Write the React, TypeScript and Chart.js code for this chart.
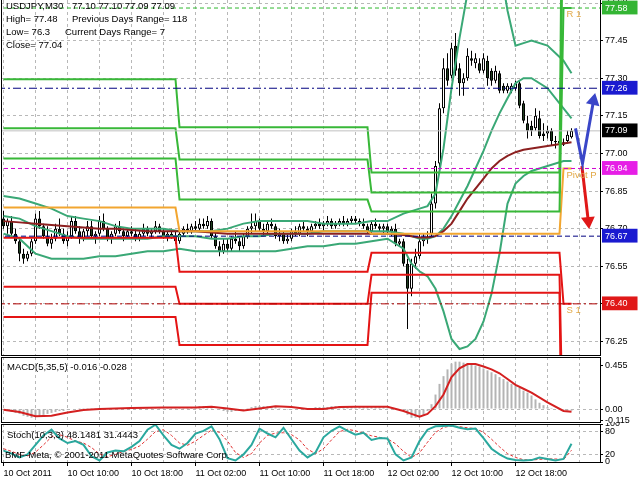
import React, { useEffect, useRef } from "react";
import { Chart, registerables } from "chart.js";

Chart.register(...registerables);

const FONT = "'Liberation Sans', Arial, Helvetica, sans-serif";
const GRID = "#b8b8b8";
const CLEAR = "rgba(0,0,0,0)";

// ---------------- time axis ----------------
const timeTickIdx = [0, 16, 32, 48, 64, 80, 96, 112, 128];
const timeTickLabels = ["10 Oct 2011", "10 Oct 10:00", "10 Oct 18:00", "11 Oct 02:00", "11 Oct 10:00", "11 Oct 18:00", "12 Oct 02:00", "12 Oct 10:00", "12 Oct 18:00"];
const gridIdx = [0, 8, 16, 24, 32, 40, 48, 56, 64, 72, 80, 88, 96, 104, 112, 120, 128, 136, 144];

// ---------------- candles (USDJPY M30) ----------------
const opens = [
  76.74, 76.71, 76.73, 76.68, 76.65, 76.60, 76.58, 76.60, 76.65, 76.74,
  76.71, 76.67, 76.64, 76.66, 76.70, 76.68, 76.65, 76.67, 76.73, 76.69,
  76.66, 76.69, 76.71, 76.67, 76.68, 76.73, 76.70, 76.66, 76.68, 76.71,
  76.69, 76.67, 76.69, 76.68, 76.66, 76.68, 76.70, 76.68, 76.69, 76.71,
  76.69, 76.67, 76.68, 76.67, 76.65, 76.68, 76.70, 76.69, 76.71, 76.70,
  76.72, 76.71, 76.73, 76.67, 76.63, 76.61, 76.64, 76.62, 76.66, 76.65,
  76.63, 76.67, 76.70, 76.71, 76.73, 76.70, 76.69, 76.72, 76.71, 76.67,
  76.68, 76.65, 76.66, 76.69, 76.68, 76.71, 76.70, 76.69, 76.71, 76.72,
  76.71, 76.72, 76.73, 76.71, 76.72, 76.73, 76.72, 76.73, 76.74, 76.73,
  76.72, 76.71, 76.69, 76.72, 76.71, 76.70, 76.71, 76.69, 76.70, 76.64,
  76.65, 76.56, 76.46, 76.56, 76.59, 76.65, 76.66, 76.68, 76.80, 76.96,
  77.18, 77.34, 77.31, 77.43, 77.34, 77.28, 77.30, 77.38, 77.36, 77.36,
  77.33, 77.37, 77.33, 77.29, 77.32, 77.27, 77.25, 77.25, 77.26, 77.28,
  77.20, 77.12, 77.11, 77.10, 77.14, 77.08, 77.08, 77.09, 77.05, 77.05,
  77.035, 77.05, 77.065,
];
const highs = [
  76.77, 76.74, 76.75, 76.70, 76.66, 76.62, 76.61, 76.66, 76.76, 76.77,
  76.72, 76.71, 76.68, 76.72, 76.74, 76.70, 76.69, 76.75, 76.75, 76.71,
  76.70, 76.73, 76.73, 76.69, 76.75, 76.76, 76.71, 76.69, 76.72, 76.73,
  76.70, 76.70, 76.71, 76.70, 76.69, 76.72, 76.71, 76.70, 76.73, 76.72,
  76.70, 76.69, 76.70, 76.69, 76.69, 76.71, 76.72, 76.72, 76.73, 76.74,
  76.74, 76.75, 76.74, 76.69, 76.65, 76.66, 76.66, 76.67, 76.69, 76.67,
  76.68, 76.71, 76.76, 76.76, 76.74, 76.72, 76.73, 76.74, 76.72, 76.70,
  76.69, 76.68, 76.70, 76.71, 76.72, 76.73, 76.71, 76.72, 76.73, 76.74,
  76.73, 76.75, 76.74, 76.73, 76.74, 76.75, 76.74, 76.75, 76.75, 76.74,
  76.74, 76.72, 76.73, 76.74, 76.72, 76.72, 76.72, 76.71, 76.72, 76.66,
  76.66, 76.58, 76.58, 76.62, 76.68, 76.68, 76.69, 76.84, 76.97, 77.20,
  77.38, 77.40, 77.44, 77.48, 77.36, 77.32, 77.42, 77.41, 77.40, 77.38,
  77.40, 77.39, 77.34, 77.35, 77.33, 77.28, 77.28, 77.28, 77.29, 77.29,
  77.21, 77.15, 77.13, 77.18, 77.17, 77.12, 77.11, 77.10, 77.07, 77.06,
  77.06, 77.09, 77.10,
];
const lows = [
  76.70, 76.68, 76.67, 76.64, 76.57, 76.56, 76.57, 76.59, 76.64, 76.70,
  76.66, 76.63, 76.62, 76.65, 76.67, 76.64, 76.63, 76.66, 76.68, 76.64,
  76.65, 76.67, 76.66, 76.64, 76.67, 76.69, 76.65, 76.64, 76.67, 76.68,
  76.65, 76.66, 76.67, 76.65, 76.65, 76.67, 76.67, 76.66, 76.68, 76.68,
  76.66, 76.65, 76.66, 76.64, 76.64, 76.67, 76.68, 76.68, 76.69, 76.69,
  76.70, 76.70, 76.66, 76.62, 76.59, 76.60, 76.61, 76.61, 76.64, 76.61,
  76.62, 76.66, 76.68, 76.69, 76.69, 76.67, 76.68, 76.70, 76.66, 76.65,
  76.64, 76.64, 76.65, 76.67, 76.67, 76.69, 76.67, 76.68, 76.70, 76.70,
  76.69, 76.71, 76.70, 76.70, 76.71, 76.71, 76.71, 76.72, 76.72, 76.71,
  76.70, 76.68, 76.68, 76.70, 76.69, 76.68, 76.68, 76.67, 76.63, 76.63,
  76.55, 76.30, 76.43, 76.54, 76.58, 76.63, 76.64, 76.67, 76.78, 76.94,
  77.16, 77.27, 77.30, 77.31, 77.23, 77.23, 77.29, 77.35, 77.34, 77.32,
  77.32, 77.27, 77.27, 77.28, 77.24, 77.24, 77.24, 77.24, 77.25, 77.18,
  77.12, 77.06, 77.07, 77.09, 77.06, 77.05, 77.06, 77.03, 77.02, 77.02,
  77.03, 77.04, 77.06,
];
const closes = [
  76.71, 76.73, 76.68, 76.65, 76.60, 76.58, 76.60, 76.65, 76.74, 76.71,
  76.67, 76.64, 76.66, 76.70, 76.68, 76.65, 76.67, 76.73, 76.69, 76.66,
  76.69, 76.71, 76.67, 76.68, 76.73, 76.70, 76.66, 76.68, 76.71, 76.69,
  76.67, 76.69, 76.68, 76.66, 76.68, 76.70, 76.68, 76.69, 76.71, 76.69,
  76.67, 76.68, 76.67, 76.65, 76.68, 76.70, 76.69, 76.71, 76.70, 76.72,
  76.71, 76.73, 76.67, 76.63, 76.61, 76.64, 76.62, 76.66, 76.65, 76.63,
  76.67, 76.70, 76.71, 76.73, 76.70, 76.69, 76.72, 76.71, 76.67, 76.68,
  76.65, 76.66, 76.69, 76.68, 76.71, 76.70, 76.69, 76.71, 76.72, 76.71,
  76.72, 76.73, 76.71, 76.72, 76.73, 76.72, 76.73, 76.74, 76.73, 76.72,
  76.71, 76.69, 76.72, 76.71, 76.70, 76.71, 76.69, 76.70, 76.64, 76.65,
  76.56, 76.46, 76.56, 76.59, 76.65, 76.66, 76.67, 76.80, 76.95, 77.18,
  77.34, 77.29, 77.42, 77.33, 77.28, 77.30, 77.39, 77.37, 77.38, 77.33,
  77.38, 77.30, 77.29, 77.33, 77.25, 77.25, 77.27, 77.27, 77.28, 77.19,
  77.13, 77.09, 77.09, 77.15, 77.07, 77.07, 77.09, 77.05, 77.045, 77.04,
  77.045, 77.075, 77.09,
];

// ---------------- daily pivot levels ----------------
const dayStart = [0, 44, 92, 140];
const dayEnd = [43, 91, 139, 142];
const levelR3 = [77.296, 77.104, 76.924, 78.76];
const levelR2 = [77.10, 76.976, 76.844, 78.12];
const levelR1 = [76.98, 76.816, 76.768, 77.58];
const pivotP = [76.784, 76.69, 76.68, 76.94];
const levelS1 = [76.664, 76.528, 76.604, 76.40];
const levelS2 = [76.468, 76.40, 76.516, 75.76];
const levelS3 = [76.348, 76.236, 76.444, 75.22];
const levelTagTexts = ["R 1", "Pivot P", "S 1"];

// ---------------- bands / moving average (sampled bars) ----------------
const lineIdx = [0, 4, 8, 12, 16, 20, 24, 28, 32, 36, 40, 44, 48, 52, 56, 60, 64, 68, 72, 76, 80, 84, 88, 92, 96,
  100, 102, 104, 106, 108, 110, 112, 114, 116, 118, 120, 122, 124, 126, 128, 130, 132, 136, 140, 142];
const bbUpper = [76.83, 76.82, 76.80, 76.78, 76.75, 76.74, 76.73, 76.71, 76.70, 76.70, 76.70, 76.69, 76.69, 76.69, 76.70, 76.72, 76.73, 76.73, 76.73, 76.73, 76.72, 76.72, 76.72, 76.73, 76.73,
  76.76, 76.77, 76.78, 76.79, 76.84, 77.02, 77.26, 77.46, 77.64, 77.76, 77.84, 77.86, 77.76, 77.57, 77.43, 77.44, 77.45, 77.43, 77.37, 77.32];
const bbMiddle = [76.75, 76.74, 76.71, 76.69, 76.67, 76.66, 76.66, 76.66, 76.66, 76.66, 76.67, 76.67, 76.67, 76.66, 76.66, 76.67, 76.67, 76.68, 76.68, 76.68, 76.69, 76.69, 76.69, 76.69, 76.69,
  76.68, 76.67, 76.66, 76.66, 76.67, 76.70, 76.75, 76.81, 76.87, 76.94, 77.01, 77.09, 77.16, 77.22, 77.28, 77.30, 77.30, 77.26, 77.18, 77.14];
const bbLower = [76.68, 76.66, 76.60, 76.58, 76.58, 76.58, 76.59, 76.59, 76.60, 76.61, 76.61, 76.62, 76.61, 76.61, 76.61, 76.61, 76.61, 76.61, 76.62, 76.63, 76.63, 76.64, 76.64, 76.65, 76.66,
  76.62, 76.56, 76.53, 76.51, 76.46, 76.37, 76.26, 76.22, 76.23, 76.26, 76.33, 76.44, 76.60, 76.80, 76.88, 76.91, 76.93, 76.95, 76.97, 76.97];
const maSlow = [76.73, 76.725, 76.72, 76.715, 76.71, 76.705, 76.70, 76.70, 76.695, 76.69, 76.69, 76.69, 76.69, 76.685, 76.68, 76.68, 76.68, 76.68, 76.68, 76.68, 76.68, 76.68, 76.68, 76.68, 76.68,
  76.675, 76.67, 76.665, 76.665, 76.67, 76.69, 76.72, 76.77, 76.82, 76.86, 76.90, 76.94, 76.97, 76.99, 77.005, 77.015, 77.02, 77.03, 77.04, 77.045];

// ---------------- horizontal price lines ----------------
const hLineValues = [77.58, 77.26, 77.09, 76.94, 76.67, 76.40];
const priceTicks = [77.60, 77.45, 77.30, 77.15, 77.00, 76.85, 76.70, 76.55, 76.40, 76.25];

// ---------------- projection arrows ----------------
const projBlueX = [143, 144.75, 147.5];
const projBlueY = [77.10, 76.96, 77.21];
const projRedX = [144.6, 146.2];
const projRedY = [76.95, 76.73];

// ---------------- header texts ----------------
const headerLeft = ["USDJPY,M30", "High= 77.48", "Low= 76.3", "Close= 77.04"];
const headerRight = ["77.10 77.10 77.09 77.09", "Previous Days Range= 118", "Current Days Range= 7", ""];

// ---------------- MACD(5,35,5) ----------------
const macdHist = [
  -0.01, -0.02, -0.03, -0.04, -0.05, -0.07, -0.08, -0.09, -0.08, -0.07, -0.06, -0.05, -0.04, -0.03, -0.02, -0.02, -0.01,
  0, 0, 0.01, 0.01, 0.01, 0.01, 0.01, 0.01, 0.01, 0.01, 0.01, 0.01, 0.01, 0.01,
  0.01, 0.01, 0.01, 0.01, 0.02, 0.02, 0.02, 0.01, 0.01, 0.01, 0.01, 0.01, 0.01, 0.01, 0.01,
  0.02, 0.02, 0.02, 0.03, 0.03, 0.03, 0.02, 0, -0.01, -0.02,
  -0.03, -0.03, -0.02, -0.01, 0, 0.01, 0.02, 0.03, 0.03, 0.03,
  0.03, 0.03, 0.02, 0.01, 0, -0.01, -0.01, 0, 0, 0.01, 0.01, 0.01, 0.02, 0.02, 0.02,
  0.02, 0.03, 0.03, 0.03, 0.03, 0.02, 0.02, 0.02, 0.02, 0.02, 0.02, 0.02, 0.02, 0.02, 0.02, 0.01, 0.01, 0, -0.01,
  -0.02, -0.06, -0.09, -0.09, -0.08, -0.06, -0.02,
  0.05, 0.15, 0.26, 0.34, 0.41, 0.47, 0.49,
  0.49, 0.48, 0.47, 0.46, 0.45, 0.44, 0.42, 0.40, 0.38, 0.36, 0.33, 0.31, 0.285, 0.26, 0.24, 0.22, 0.19, 0.17, 0.14, 0.10, 0.065, 0.04, 0.02, 0.01, 0, -0.01, -0.015, -0.016, -0.016,
];
const macdSignal = [-0.007, -0.03, -0.075, -0.07, -0.035, -0.01, 0, 0.005, 0.01, 0.013, 0.015, 0.015, 0.017, 0.024, 0.005, -0.015, 0.005, 0.028, 0.02, 0, 0, 0.02, 0.024, 0.024, 0.024,
  -0.02, -0.05, -0.08, -0.05, 0.03, 0.15, 0.33, 0.42, 0.465, 0.465, 0.44, 0.41, 0.37, 0.31, 0.25, 0.21, 0.17, 0.07, -0.02, -0.028];
const macdTicks = [0.455, 0, -0.115];
const macdTickLabels = ["0.455", "0.00", "-0.115"];
const macdLabel = "MACD(5,35,5) -0.016 -0.028";

// ---------------- Stochastic(10,3,3) ----------------
const stochIdx = [0, 2, 4, 6, 8, 10, 12, 14, 16, 18, 20, 22, 24, 26, 28, 30, 32, 34, 36, 38, 40, 42, 44, 46, 48, 50, 52, 54, 56, 58,
  60, 62, 64, 66, 68, 70, 72, 74, 76, 78, 80, 82, 84, 86, 88, 90, 92, 94, 96, 98, 100, 102, 104, 106, 108, 110, 112, 114, 116, 118,
  120, 122, 124, 126, 128, 130, 132, 134, 136, 138, 140, 142];
const stochMain = [30, 22, 12, 20, 45, 70, 85, 62, 50, 55, 45, 15, 4, 25, 30, 28, 40, 55, 85, 98,
  70, 45, 35, 50, 75, 82, 94, 60, 10, 4, 20, 45, 88, 75, 65, 90, 60, 30, 12, 25,
  65, 82, 94, 82, 72, 77, 58, 63, 62, 20, 4, 12, 55, 85, 94, 95, 96, 90, 86, 88,
  63, 35, 20, 9, 5, 4, 5, 12, 8, 4, 8, 48];
const stochSignal = [35, 28, 20, 16, 26, 45, 66, 72, 65, 55, 50, 38, 21, 14, 20, 28, 33, 42, 60, 80,
  85, 70, 50, 44, 55, 70, 84, 78, 55, 25, 12, 22, 50, 70, 76, 77, 72, 58, 34, 22,
  35, 58, 80, 86, 82, 76, 69, 65, 61, 48, 28, 12, 24, 52, 78, 91, 95, 93, 90, 88,
  78, 60, 40, 22, 12, 6, 5, 7, 8, 8, 6, 31];
const stochTicks = [100, 80, 20, 0];
const stochTickLabels = ["100", "80", "20", "0"];
const stochLabel = "Stoch(10,3,3) 48.1481 31.4443";
const copyrightLabel = "BMF-Meta, \u00A9 2001-2011 MetaQuotes Software Corp.";

// ---------------- layout constants ----------------
const X_MIN = -0.625;
const X_MAX = 149.125;
const PRICE_MIN = 76.196;
const PRICE_MAX = 77.612;
const MACD_MIN = -0.134;
const MACD_MAX = 0.538;

const LEVEL_GREEN = "#38b838";
const LEVEL_RED = "#e41414";
const LEVEL_ORANGE = "#f2a630";
const BAND = "#3aa876";
const MA_BROWN = "#8c2020";
const BULL = "#ffffff";
const BEAR = "#1f3f1f";
const hLineColors = ["#2eb82e", "#000080", "#c0c0c0", "#d000d0", "#000080", "#b00000"];
const hLineDash = [[4, 3], [8, 3, 2, 3], [], [4, 3], [5, 3], [8, 3, 2, 3]];
const markBoxColors = ["#34b534", "#1a1ad0", "#000000", "#e61ee6", "#1a1ad0", "#e01818"];

const barIdx = opens.map((_, i) => i);

function lineDs(xs: number[], ys: number[], color: string, width: number, order: number, dash: number[] = []): any {
  return {
    type: "line",
    data: xs.map((x, k) => ({ x, y: ys[k] })),
    borderColor: color,
    borderWidth: width,
    borderDash: dash,
    pointRadius: 0,
    fill: false,
    tension: 0,
    order,
  };
}

function xAxis(showLabels: boolean, height: number): any {
  return {
    type: "linear",
    min: X_MIN,
    max: X_MAX,
    offset: false,
    afterBuildTicks: (s: any) => {
      s.ticks = gridIdx.map((v) => ({ value: v }));
    },
    afterFit: (s: any) => {
      s.height = height;
      s.paddingLeft = 0;
      s.paddingRight = 0;
    },
    grid: {
      color: GRID,
      lineWidth: 1,
      offset: false,
      drawTicks: showLabels,
      tickLength: 4,
      tickColor: (c: any) => (c.tick && timeTickIdx.includes(c.tick.value) ? "#000" : CLEAR),
      tickBorderDash: [],
    },
    border: { display: false, dash: [3, 3] },
    ticks: {
      display: showLabels,
      autoSkip: false,
      maxRotation: 0,
      minRotation: 0,
      align: "start",
      padding: 2,
      color: "#000",
      font: { family: FONT, size: 9 },
      callback: (v: any) => {
        const k = timeTickIdx.indexOf(Number(v));
        return k >= 0 ? timeTickLabels[k] : "";
      },
    },
  };
}

function simpleYAxis(min: number, max: number, ticks: number[], labels: string[], gridVals: number[]): any {
  return {
    type: "linear",
    position: "right",
    min,
    max,
    afterBuildTicks: (s: any) => {
      s.ticks = ticks.map((v) => ({ value: v }));
    },
    afterFit: (s: any) => {
      s.width = 40;
      s.paddingTop = 0;
      s.paddingBottom = 0;
    },
    grid: {
      color: (c: any) => (c.tick && gridVals.includes(c.tick.value) ? GRID : CLEAR),
      tickLength: 3,
      tickColor: "#000",
      tickBorderDash: [],
    },
    border: { display: false, dash: [3, 3] },
    ticks: {
      autoSkip: false,
      padding: 2,
      color: "#000",
      font: { family: FONT, size: 9 },
      callback: (_v: any, i: number) => labels[i],
    },
  };
}

function baseOptions(x: any, y: any, padding: any): any {
  return {
    responsive: false,
    maintainAspectRatio: false,
    animation: false,
    devicePixelRatio: 1,
    events: [],
    layout: { autoPadding: false, padding },
    plugins: { legend: { display: false }, tooltip: { enabled: false }, title: { display: false } },
    scales: { x, y },
  };
}

function frame(chart: any, drawTop: boolean) {
  const { ctx, chartArea: a } = chart;
  ctx.save();
  ctx.strokeStyle = "#000";
  ctx.lineWidth = 1;
  ctx.beginPath();
  if (drawTop) {
    ctx.moveTo(a.left, a.top + 0.5);
    ctx.lineTo(a.right + 1, a.top + 0.5);
  }
  ctx.moveTo(a.left + 0.5, a.top);
  ctx.lineTo(a.left + 0.5, a.bottom + 1);
  ctx.moveTo(a.left, a.bottom + 0.5);
  ctx.lineTo(a.right + 1, a.bottom + 0.5);
  ctx.moveTo(a.right + 0.5, a.top);
  ctx.lineTo(a.right + 0.5, a.bottom + 1);
  ctx.stroke();
  ctx.restore();
}

function mainConfig(): any {
  const wick = barIdx.map((i) => ({ x: i, y: [lows[i], highs[i]] }));
  const body = barIdx.map((i) => ({ x: i, y: [opens[i], closes[i]] }));
  const bodyFill = barIdx.map((i) => (closes[i] >= opens[i] ? BULL : BEAR));
  const levelData = (vals: number[]) =>
    dayStart.flatMap((s, d) => [{ x: s, y: vals[d] }, { x: dayEnd[d], y: vals[d] }]);
  const levels: any[] = [
    [levelR3, LEVEL_GREEN], [levelR2, LEVEL_GREEN], [levelR1, LEVEL_GREEN],
    [pivotP, LEVEL_ORANGE],
    [levelS1, LEVEL_RED], [levelS2, LEVEL_RED], [levelS3, LEVEL_RED],
  ].map(([vals, color]: any) => ({
    type: "line", data: levelData(vals), borderColor: color, borderWidth: 2, pointRadius: 0, tension: 0, fill: false, order: 40,
  }));
  const hLines = hLineValues.map((v, k) => ({
    type: "line", data: [{ x: X_MIN - 1, y: v }, { x: X_MAX + 1, y: v }], borderColor: hLineColors[k], borderWidth: 1,
    borderDash: hLineDash[k], pointRadius: 0, fill: false, order: 30,
  }));
  const nReg = priceTicks.length;
  const allTicks = [...priceTicks, ...hLineValues];
  const tagValues = [levelR1[3], pivotP[3], levelS1[3]];

  return {
    type: "line",
    data: {
      datasets: [
        { type: "bar", data: wick, backgroundColor: "#000", borderWidth: 0, barThickness: 1, grouped: false, inflateAmount: 0, order: 100 },
        { type: "bar", data: body, backgroundColor: bodyFill, borderColor: "#000", borderWidth: 1, borderSkipped: false, barThickness: 3, grouped: false, inflateAmount: 0, order: 99 },
        lineDs(lineIdx, bbUpper, BAND, 2, 50),
        lineDs(lineIdx, bbMiddle, BAND, 2, 50),
        lineDs(lineIdx, bbLower, BAND, 2, 50),
        lineDs(lineIdx, maSlow, MA_BROWN, 2, 49),
        ...levels,
        ...hLines,
        {
          ...lineDs(projBlueX, projBlueY, "#3a46c8", 3, 10),
          pointRadius: [0, 0, 5], pointStyle: "triangle", pointRotation: [0, 0, 12],
          pointBackgroundColor: "#3a46c8", pointBorderColor: "#3a46c8",
        },
        {
          ...lineDs(projRedX, projRedY, "#e01818", 3, 10),
          pointRadius: [0, 5], pointStyle: "triangle", pointRotation: [0, 174],
          pointBackgroundColor: "#e01818", pointBorderColor: "#e01818",
        },
      ],
    },
    options: baseOptions(
      xAxis(false, 0),
      {
        type: "linear",
        position: "right",
        min: PRICE_MIN,
        max: PRICE_MAX,
        afterBuildTicks: (s: any) => {
          s.ticks = allTicks.map((v) => ({ value: v }));
        },
        afterFit: (s: any) => {
          s.width = 40;
          s.paddingTop = 0;
          s.paddingBottom = 0;
        },
        grid: {
          color: (c: any) => (c.index < nReg ? GRID : CLEAR),
          tickLength: 3,
          tickColor: (c: any) => (c.index < nReg ? "#000" : CLEAR),
          tickBorderDash: [],
        },
        border: { display: false, dash: [3, 3] },
        ticks: {
          autoSkip: false,
          padding: 2,
          font: { family: FONT, size: 9 },
          color: (c: any) => (c.index < nReg ? "#000" : "#fff"),
          showLabelBackdrop: (c: any) => c.index >= nReg,
          backdropColor: (c: any) => (c.index >= nReg ? markBoxColors[c.index - nReg] : CLEAR),
          backdropPadding: { top: 2, bottom: 1, left: 3, right: 10 },
          callback: (v: any) => Number(v).toFixed(2),
        },
      },
      { left: 1, right: 0, top: 0, bottom: 1 }
    ),
    plugins: [
      {
        id: "mainDecor",
        afterDraw(chart: any) {
          frame(chart, false);
          const { ctx, scales } = chart;
          ctx.save();
          ctx.font = `9.5px ${FONT}`;
          ctx.fillStyle = "#000";
          ctx.textAlign = "left";
          ctx.textBaseline = "middle";
          const rightX = [72, 72, 65, 72];
          headerLeft.forEach((t, k) => ctx.fillText(t, 6, 6 + 13 * k));
          headerRight.forEach((t, k) => t && ctx.fillText(t, rightX[k], 6 + 13 * k));
          ctx.fillStyle = "#e2a845";
          ctx.textBaseline = "top";
          const lx = scales.x.getPixelForValue(dayStart[3]) + 3;
          levelTagTexts.forEach((t, k) => ctx.fillText(t, lx, scales.y.getPixelForValue(tagValues[k]) + 2));
          ctx.restore();
        },
      },
    ],
  };
}

function macdConfig(): any {
  return {
    type: "line",
    data: {
      datasets: [
        lineDs(lineIdx, macdSignal, "#d42020", 2, 1),
        {
          type: "bar", data: barIdx.map((i) => ({ x: i, y: macdHist[i] })), backgroundColor: "#b4b4b4",
          borderWidth: 0, barThickness: 2, grouped: false, inflateAmount: 0, order: 2,
        },
      ],
    },
    options: baseOptions(xAxis(false, 0), simpleYAxis(MACD_MIN, MACD_MAX, macdTicks, macdTickLabels, [0]), { left: 1, right: 0, top: 1, bottom: 1 }),
    plugins: [
      {
        id: "macdDecor",
        afterDraw(chart: any) {
          frame(chart, true);
          const { ctx } = chart;
          ctx.save();
          ctx.font = `9.5px ${FONT}`;
          ctx.fillStyle = "#000";
          ctx.textBaseline = "middle";
          ctx.fillText(macdLabel, 7, 11);
          ctx.restore();
        },
      },
    ],
  };
}

function stochConfig(): any {
  return {
    type: "line",
    data: {
      datasets: [
        lineDs(stochIdx, stochSignal, "#e03030", 1, 2, [3, 2]),
        lineDs(stochIdx, stochMain, "#2aa89e", 2, 1),
      ],
    },
    options: baseOptions(xAxis(true, 18), simpleYAxis(0, 100, stochTicks, stochTickLabels, [80, 20]), { left: 1, right: 0, top: 1, bottom: 0 }),
    plugins: [
      {
        id: "stochDecor",
        afterDraw(chart: any) {
          frame(chart, true);
          const { ctx } = chart;
          ctx.save();
          ctx.font = `9.5px ${FONT}`;
          ctx.fillStyle = "#000";
          ctx.textBaseline = "middle";
          ctx.fillText(stochLabel, 7, 12);
          ctx.fillText(copyrightLabel, 5, 32);
          ctx.restore();
        },
      },
    ],
  };
}

export default function App() {
  const mainRef = useRef<HTMLCanvasElement>(null);
  const macdRef = useRef<HTMLCanvasElement>(null);
  const stochRef = useRef<HTMLCanvasElement>(null);

  useEffect(() => {
    const charts = [
      new Chart(mainRef.current as HTMLCanvasElement, mainConfig()),
      new Chart(macdRef.current as HTMLCanvasElement, macdConfig()),
      new Chart(stochRef.current as HTMLCanvasElement, stochConfig()),
    ];
    return () => charts.forEach((c) => c.destroy());
  }, []);

  const cs = (top: number, h: number): React.CSSProperties => ({ position: "absolute", left: 0, top, width: 640, height: h, display: "block" });

  return (
    <div style={{ position: "fixed", left: 0, top: 0, width: 640, height: 480, background: "#fff", overflow: "hidden" }}>
      <canvas ref={mainRef} width={640} height={356} style={cs(0, 356)} />
      <canvas ref={macdRef} width={640} height={67} style={cs(356, 67)} />
      <canvas ref={stochRef} width={640} height={57} style={cs(423, 57)} />
    </div>
  );
}
